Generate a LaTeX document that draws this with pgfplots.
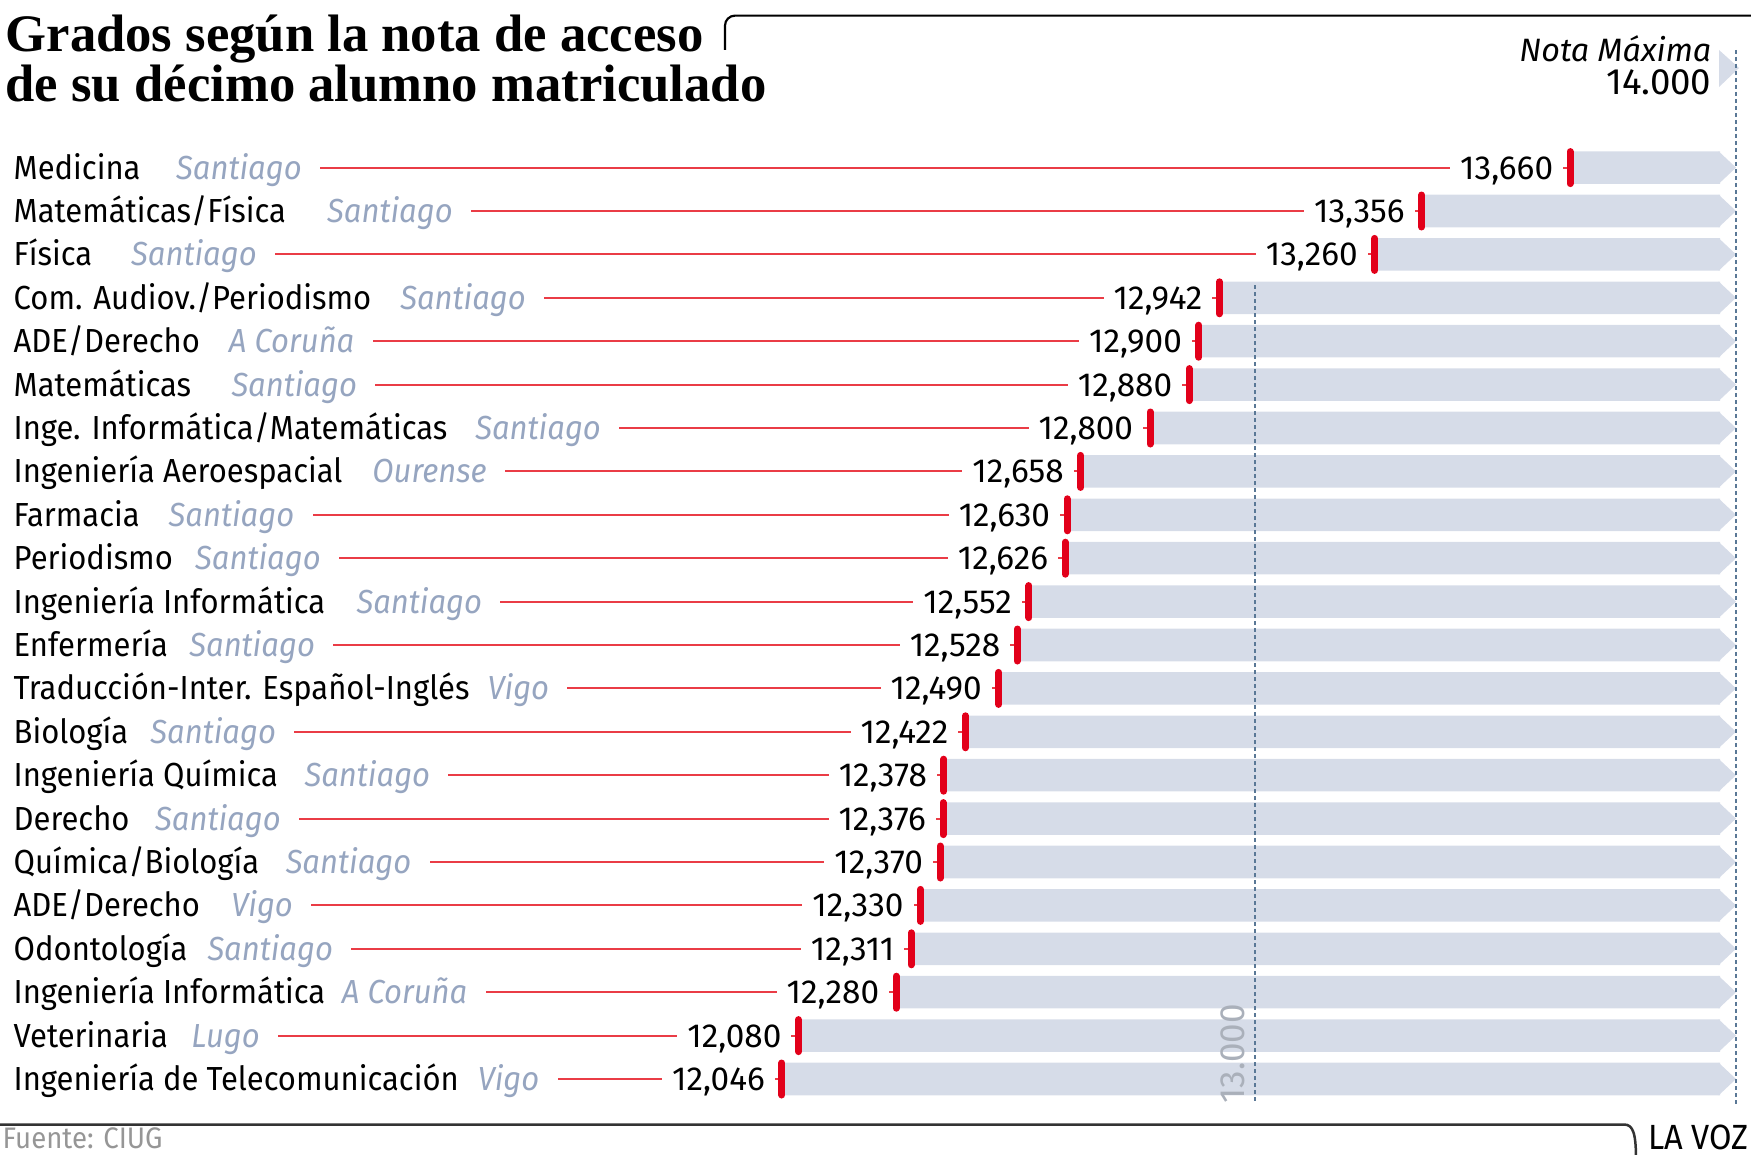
\documentclass[border=0pt]{standalone}
\usepackage{pgfplots}
\pgfplotsset{compat=1.18}
\usepackage{pgfplotstable}
\usepackage{fontspec}
\setmainfont{Fira Sans}[FakeStretch=0.93]
\newfontfamily\numfont{Fira Sans}
\newfontfamily\titlefont{Liberation Serif}
\definecolor{barc}{RGB}{214,220,232}
\definecolor{redc}{RGB}{226,0,26}
\definecolor{linec}{RGB}{234,60,70}
\definecolor{cityc}{RGB}{150,165,192}
\definecolor{dashc}{RGB}{90,120,150}
\definecolor{labc}{RGB}{170,176,186}
\definecolor{fuentec}{RGB}{150,150,150}
\protected\def\city#1#2{\hspace{#1pt}{\color{cityc}\itshape #2}}
\pgfdeclareplotmark{redtick}{\pgfpathmoveto{\pgfqpoint{0pt}{-4.8pt}}\pgfpathlineto{\pgfqpoint{0pt}{4.8pt}}\pgfusepathqstroke}
\pgfdeclareplotmark{chev}{\pgfpathmoveto{\pgfqpoint{-0.4pt}{-4.875pt}}\pgfpathlineto{\pgfqpoint{4.8pt}{0pt}}\pgfpathlineto{\pgfqpoint{-0.4pt}{4.875pt}}\pgfpathclose\pgfusepathqfill}
\pgfplotstableread{
y v lab name
22 13.660 13,660 {Medicina\city{10.7}{Santiago}}
21 13.356 13,356 {Matemáticas/Física\city{12.4}{Santiago}}
20 13.260 13,260 {Física\city{11.7}{Santiago}}
19 12.942 12,942 {Com. Audiov./Periodismo\city{8.7}{Santiago}}
18 12.900 12,900 {ADE/Derecho\city{8.7}{A Coruña}}
17 12.880 12,880 {Matemáticas\city{12.1}{Santiago}}
16 12.800 12,800 {Inge. Informática/Matemáticas\city{8.4}{Santiago}}
15 12.658 12,658 {Ingeniería Aeroespacial\city{9.0}{Ourense}}
14 12.630 12,630 {Farmacia\city{8.7}{Santiago}}
13 12.626 12,626 {Periodismo\city{6.7}{Santiago}}
12 12.552 12,552 {Ingeniería Informática\city{9.4}{Santiago}}
11 12.528 12,528 {Enfermería\city{6.4}{Santiago}}
10 12.490 12,490 {Traducción-Inter. Español-Inglés\city{5.4}{Vigo}}
9 12.422 12,422 {Biología\city{6.7}{Santiago}}
8 12.378 12,378 {Ingeniería Química\city{8.0}{Santiago}}
7 12.376 12,376 {Derecho\city{7.7}{Santiago}}
6 12.370 12,370 {Química/Biología\city{8.0}{Santiago}}
5 12.330 12,330 {ADE/Derecho\city{9.4}{Vigo}}
4 12.311 12,311 {Odontología\city{6.0}{Santiago}}
3 12.280 12,280 {Ingeniería Informática\city{5.0}{A Coruña}}
2 12.080 12,080 {Veterinaria\city{7.0}{Lugo}}
1 12.046 12,046 {Ingeniería de Telecomunicación\city{5.7}{Vigo}}
}\data
\begin{document}
\begin{tikzpicture}
\begin{axis}[at={(0pt,0pt)}, anchor=south west, scale only axis,
  width=525.3pt, height=346.2pt,
  xmin=10.4452, xmax=14.0304, ymin=-0.728, ymax=25.862, hide axis]
\addplot[xbar, bar shift=0pt, bar width=0.75, fill=barc, draw=none] table[x expr=13.967, y=y]{\data};
\addplot[only marks, mark=chev, color=barc, mark options={fill=barc, draw=none}] table[x expr=13.967, y=y]{\data};
\addplot[xbar, bar shift=0pt, bar width=0.82, fill=white, draw=none] table[x=v, y=y]{\data};
\addplot[xcomb, draw=linec, line width=0.6pt, mark=none] table[x=v, y=y]{\data};
\addplot[only marks, mark=redtick, mark options={draw=redc, line width=2.1pt, line cap=round},
  point meta=explicit symbolic, nodes near coords,
  nodes near coords style={anchor=east, xshift=-1.05pt, fill=white, inner xsep=3.0pt, inner ysep=0.5pt,
    text height=0.69em, text depth=0pt, text=black, font=\numfont\fontsize{10pt}{12pt}\selectfont}]
  table[x=v, y=y, meta=lab]{\data};
\addplot[draw=none, mark=none, point meta=explicit symbolic, nodes near coords,
  nodes near coords style={anchor=west, xshift=-1.6pt, fill=white, inner xsep=5.5pt, inner ysep=0.5pt,
    text height=0.69em, text depth=0pt, text=black, font=\fontsize{10pt}{12pt}\selectfont}]
  table[x expr=10.4452, y=y, meta=name]{\data};
\end{axis}
\begin{scope}[x=0.3pt, y=-0.3pt, shift={(0pt,346.2pt)}]
  \node[anchor=base west, inner sep=0pt, text depth=0pt, font=\titlefont\bfseries\fontsize{15.8pt}{19pt}\selectfont] at (5,51.5) {Grados según la nota de acceso};
  \node[anchor=base west, inner sep=0pt, font=\titlefont\bfseries\fontsize{15.8pt}{19pt}\selectfont] at (5,101.5) {de su décimo alumno matriculado};
  \draw[line width=0.65pt, black, rounded corners=3pt] (725,50) -- (725,15.6) -- (1760,15.6);
  \node[anchor=base east, inner sep=0pt, font=\numfont\itshape\fontsize{9.7pt}{12pt}\selectfont] at (1712,62) {Nota Máxima};
  \node[anchor=base east, inner sep=0pt, font=\numfont\fontsize{11pt}{12pt}\selectfont] at (1712,95) {14.000};
  \fill[barc] (1719,50) -- (1739,68) -- (1719,87) -- cycle;
  \draw[dashc, line width=0.4pt, dash pattern=on 1.2pt off 0.9pt] (1736,50) -- (1736,1105);
  \draw[dashc, line width=0.4pt, dash pattern=on 1.2pt off 0.9pt] (1255,285) -- (1255,1103);
  \node[rotate=90, anchor=base west, inner sep=0pt, text=labc, font=\numfont\fontsize{10.5pt}{12pt}\selectfont] at (1244,1104) {13.000};
  \draw[line width=0.75pt, black!80] (-5,1124.5) -- (1624,1124.5) .. controls (1633,1124.5) and (1636,1133) .. (1636,1160);
  \node[anchor=base west, inner sep=0pt, text=fuentec, font=\fontsize{8.9pt}{11pt}\selectfont] at (2,1148) {Fuente: CIUG};
  \node[anchor=base east, inner sep=0pt, font=\fontsize{10.5pt}{12pt}\selectfont] at (1749,1149) {LA VOZ};
\end{scope}
\pgfresetboundingbox
\path[use as bounding box] (0pt,0pt) rectangle (525.3pt,346.2pt);
\end{tikzpicture}
\end{document}
